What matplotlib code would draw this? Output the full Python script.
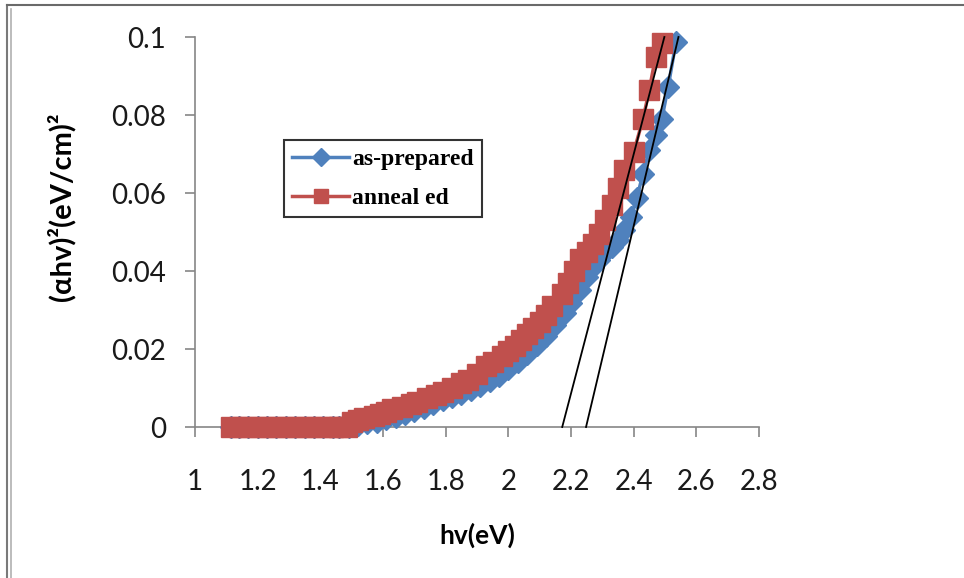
import matplotlib
matplotlib.use("Agg")
import matplotlib.pyplot as plt
from matplotlib.lines import Line2D

# photon energy (eV) and (alpha h nu)^2 values
prep_hv = [1.115, 1.14, 1.17, 1.20, 1.23, 1.26, 1.29, 1.32, 1.35, 1.38, 1.41, 1.44, 1.46, 1.49,
           1.52, 1.55, 1.58, 1.61, 1.64, 1.67, 1.70, 1.73, 1.76, 1.79, 1.82, 1.85, 1.88, 1.91,
           1.94, 1.97, 2.00, 2.03, 2.06, 2.09, 2.12, 2.15, 2.18, 2.20, 2.23, 2.25, 2.27, 2.29,
           2.31, 2.33, 2.35, 2.37, 2.39, 2.41, 2.43, 2.45, 2.47, 2.49, 2.51, 2.535]
prep_y = [0, 0, 0, 0, 0, 0, 0, 0, 0, 0, 0, 0, 0, 0,
          0.0005, 0.0009, 0.0014, 0.0020, 0.0026, 0.0033, 0.0041, 0.0049, 0.0058, 0.0068, 0.0076, 0.0085, 0.0094, 0.0105,
          0.0118, 0.0132, 0.0148, 0.0166, 0.0187, 0.0210, 0.0233, 0.0262, 0.0292, 0.0318, 0.0352, 0.0385, 0.0410, 0.0428,
          0.0448, 0.0462, 0.0480, 0.0505, 0.0538, 0.0587, 0.0650, 0.0710, 0.0750, 0.0790, 0.0872, 0.0987]

ann_hv = [1.115, 1.14, 1.17, 1.20, 1.23, 1.26, 1.29, 1.32, 1.35, 1.38, 1.41, 1.44, 1.46, 1.485,
          1.50, 1.52, 1.54, 1.57, 1.59, 1.61, 1.63, 1.66, 1.69, 1.71, 1.74, 1.77, 1.79, 1.82,
          1.85, 1.87, 1.90, 1.93, 1.95, 1.98, 2.00, 2.02, 2.04, 2.06, 2.08, 2.10, 2.12, 2.14,
          2.17, 2.19, 2.21, 2.23, 2.25, 2.27, 2.29, 2.31, 2.33, 2.35, 2.37, 2.40, 2.43, 2.45,
          2.47, 2.49]
ann_y = [0, 0, 0, 0, 0, 0, 0, 0, 0, 0, 0, 0, 0, 0,
         0.0013, 0.0018, 0.0022, 0.0029, 0.0033, 0.0038, 0.0045, 0.0052, 0.0058, 0.0065, 0.0074, 0.0083, 0.0090, 0.0100,
         0.0112, 0.0121, 0.0136, 0.0156, 0.0167, 0.0183, 0.0196, 0.0208, 0.0222, 0.0238, 0.0255, 0.0270, 0.0287, 0.0310,
         0.0340, 0.0370, 0.0400, 0.0430, 0.0450, 0.0470, 0.0495, 0.0530, 0.0570, 0.0612, 0.0658, 0.0705, 0.0790, 0.0865,
         0.0950, 0.0985]

# linear fits (Tauc extrapolation), end points
fit_ann_x = [2.172, 2.498]
fit_ann_y = [0.0, 0.1]
fit_prep_x = [2.248, 2.543]
fit_prep_y = [0.0, 0.1]

xticks = [1, 1.2, 1.4, 1.6, 1.8, 2, 2.2, 2.4, 2.6, 2.8]
xticklabels = ["1", "1.2", "1.4", "1.6", "1.8", "2", "2.2", "2.4", "2.6", "2.8"]
yticks = [0, 0.02, 0.04, 0.06, 0.08, 0.1]
yticklabels = ["0", "0.02", "0.04", "0.06", "0.08", "0.1"]

blue = "#4F81BD"
red = "#C0504D"
fonts = ["Lato", "DejaVu Sans"]

fig = plt.figure(figsize=(9.64, 5.78), dpi=100)
ax = fig.add_axes([195 / 964, 1 - 427 / 578, (759 - 195) / 964, (427 - 37) / 578])

ax.plot(prep_hv, prep_y, "-", color=blue, lw=2.5, marker="D", ms=11, mec=blue, mfc=blue,
        clip_on=False, label="as-prepared", zorder=3)
ax.plot(ann_hv, ann_y, "-", color=red, lw=2.5, marker="s", ms=14.5, mec=red, mfc=red,
        clip_on=False, label="anneal ed", zorder=4)
ax.plot(fit_ann_x, fit_ann_y, color="black", lw=1.3, zorder=5, clip_on=False)
ax.plot(fit_prep_x, fit_prep_y, color="black", lw=1.3, zorder=5, clip_on=False)

ax.set_xlim(1, 2.8)
ax.set_ylim(0, 0.1)
ax.set_xticks(xticks)
ax.set_xticklabels(xticklabels)
ax.set_yticks(yticks)
ax.set_yticklabels(yticklabels)

for s in ["top", "right"]:
    ax.spines[s].set_visible(False)
for s in ["left", "bottom"]:
    ax.spines[s].set_color("#868686")
    ax.spines[s].set_linewidth(1.2)
ax.tick_params(axis="both", direction="out", length=7, width=1.2, color="#868686",
               labelcolor="#1a1a1a", labelsize=20)
ax.tick_params(axis="y", pad=14)
ax.tick_params(axis="x", pad=23)
for lab in ax.get_xticklabels() + ax.get_yticklabels():
    lab.set_family(fonts)

ax.set_xlabel("hv(eV)", family=fonts, fontsize=19, fontweight="bold", labelpad=20)
ax.set_ylabel("(αhv)²(eV/cm)²", family=fonts, fontsize=21, fontweight="bold")
ax.yaxis.set_label_coords(-0.212, 0.565)

leg = ax.legend(loc="upper left", bbox_to_anchor=(284 / 964, 1 - 140 / 578),
                bbox_transform=fig.transFigure, frameon=True, fancybox=False,
                prop={"family": "Liberation Serif", "weight": "bold", "size": 17},
                handlelength=2.4, handletextpad=0.15, borderpad=0.35, labelspacing=0.75,
                borderaxespad=0)
leg.get_frame().set_edgecolor("black")
leg.get_frame().set_linewidth(1.5)
for h in leg.legend_handles:
    h.set_markersize(9.5)

# outer frame of the pasted chart (left and top edges)
fig.add_artist(Line2D([7 / 964, 7 / 964], [0, 1 - 5 / 578], transform=fig.transFigure, color="#7a7a7a", lw=1.5))
fig.add_artist(Line2D([11 / 964, 11 / 964], [0, 1 - 9 / 578], transform=fig.transFigure, color="#b0b0b0", lw=1.2))
fig.add_artist(Line2D([7 / 964, 1], [1 - 5 / 578, 1 - 5 / 578], transform=fig.transFigure, color="#6a6a6a", lw=1.5))

fig.savefig("out.png", dpi=100)
